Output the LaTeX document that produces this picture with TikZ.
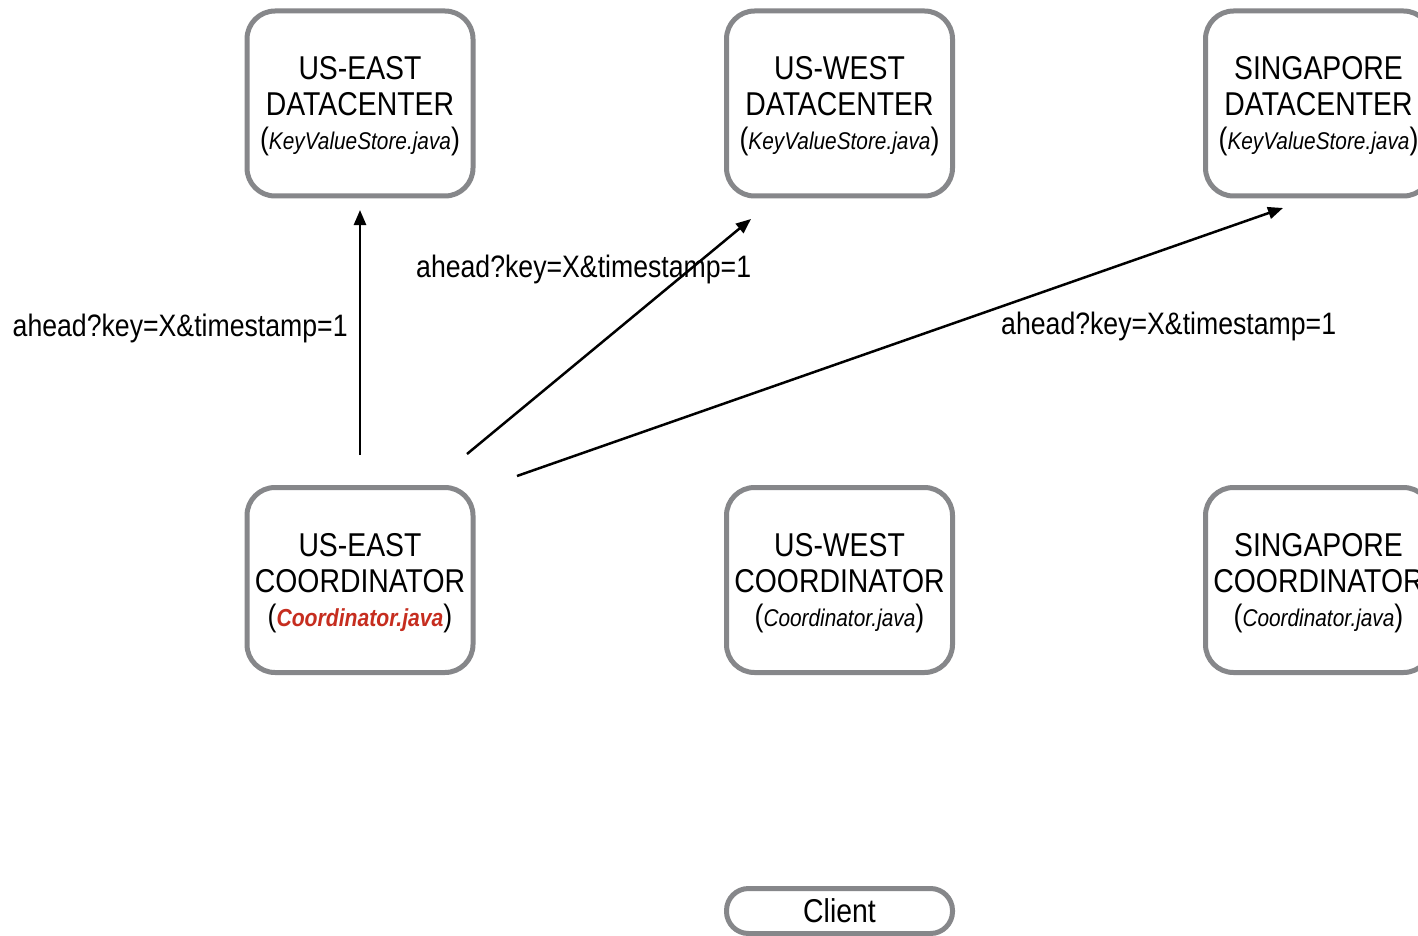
\documentclass[tikz,border=0pt]{standalone}
\usepackage{fontspec}
\setmainfont{Liberation Sans}[FakeStretch=0.86]
\usetikzlibrary{arrows.meta}
\definecolor{boxgray}{HTML}{86878A}
\definecolor{javared}{HTML}{C62D1F}
\tikzset{
  box/.style={draw=boxgray, line width=5pt, rounded corners=28pt, minimum width=226pt, minimum height=185pt, inner sep=0pt, fill=white},
  pill/.style={draw=boxgray, line width=5pt, rounded corners=22pt, minimum width=226pt, minimum height=45pt, inner sep=0pt, fill=white},
  title/.style={font=\fontsize{33}{36}\selectfont, inner sep=0pt, anchor=base},
  lbl/.style={font=\fontsize{31}{36}\selectfont, inner sep=0pt, anchor=base west},
  conn/.style={line width=2.5pt, -{Triangle[length=15pt,width=12pt]}},
}
\newcommand{\fileit}[1]{{\fontsize{31}{36}\selectfont(}{\fontsize{24.2}{30}\selectfont\itshape #1}{\fontsize{31}{36}\selectfont)}}
\newcommand{\filered}[1]{{\fontsize{31}{36}\selectfont(}{\fontsize{24.6}{30}\selectfont\bfseries\itshape\color{javared}#1}{\fontsize{31}{36}\selectfont)}}
\begin{document}
\begin{tikzpicture}[x=1pt,y=-1pt]
\useasboundingbox (0,0) rectangle (1418,936);
\clip (0,0) rectangle (1418,936);
\fill[white] (0,0) rectangle (1418,936);

% datacenters
\node[box] (dcE) at (360,103.5) {};
\node[title] (dcE1) at (360,80) {US-EAST};
\node[title] (dcE2) at (360,116) {DATACENTER};
\node[title] (dcE3) at (360,150) {\fileit{KeyValueStore.java}};

\node[box] (dcW) at (839.5,103.5) {};
\node[title] (dcW1) at (839.5,80) {US-WEST};
\node[title] (dcW2) at (839.5,116) {DATACENTER};
\node[title] (dcW3) at (839.5,150) {\fileit{KeyValueStore.java}};

\node[box] (dcS) at (1318.5,103.5) {};
\node[title] (dcS1) at (1318.5,80) {SINGAPORE};
\node[title] (dcS2) at (1318.5,116) {DATACENTER};
\node[title] (dcS3) at (1318.5,150) {\fileit{KeyValueStore.java}};

% coordinators
\node[box] (coE) at (360,580) {};
\node[title] (coE1) at (360,556) {US-EAST};
\node[title] (coE2) at (360,592) {COORDINATOR};
\node[title] (coE3) at (360,626) {\filered{Coordinator.java}};

\node[box] (coW) at (839.5,580) {};
\node[title] (coW1) at (839.5,556) {US-WEST};
\node[title] (coW2) at (839.5,592) {COORDINATOR};
\node[title] (coW3) at (839.5,626) {\fileit{Coordinator.java}};

\node[box] (coS) at (1318.5,580) {};
\node[title] (coS1) at (1318.5,556) {SINGAPORE};
\node[title] (coS2) at (1318.5,592) {COORDINATOR};
\node[title] (coS3) at (1318.5,626) {\fileit{Coordinator.java}};

% client
\node[pill] (client) at (839.5,911) {};
\node[title] (clientT) at (839.5,922) {Client};

% connector ends
\coordinate (s1) at (360,455);
\coordinate (e1) at (360,210);
\coordinate (s2) at (467,454);
\coordinate (e2) at (751,219);
\coordinate (s3) at (517,476);
\coordinate (e3) at (1283,208);

\draw[conn] (s1) -- (e1);
\draw[conn] (s2) -- (e2);
\draw[conn] (s3) -- (e3);

% labels
\node[lbl] (l1) at (12.5,336.5) {ahead?key=X\&timestamp=1};
\node[lbl] (l2) at (416,277.5) {ahead?key=X\&timestamp=1};
\node[lbl] (l3) at (1001,334.5) {ahead?key=X\&timestamp=1};
\end{tikzpicture}
\end{document}
